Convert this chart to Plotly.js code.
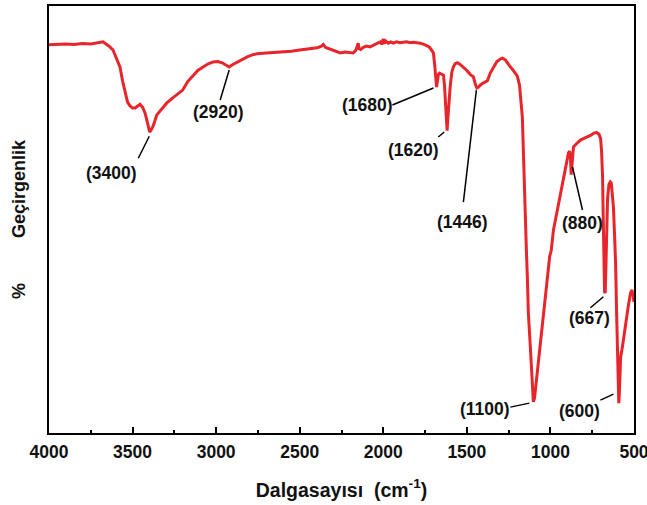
<!DOCTYPE html>
<html>
<head>
<meta charset="utf-8">
<script src="https://cdn.plot.ly/plotly-3.0.1.min.js"></script>
<style>html,body{margin:0;padding:0;background:#fff;}#chart{width:647px;height:505px;}</style>
</head>
<body>
<div id="chart"></div>
<script>
// Spectrum: wavenumber (cm-1) and transmittance (arbitrary %)
const wavenumber = [4000,3950,3900,3850,3800,3750,3700,3677,3655,3640,3617,3595,3575,3560,3545,3530,3515,3500,3485,3470,3455,3440,3425,3410,3398,3388,3375,3355,3325,3295,3265,3235,3200,3170,3137,3110,3078,3050,3018,2990,2964,2940,2922,2900,2874,2840,2814,2780,2755,2700,2650,2599,2550,2500,2450,2395,2370,2359,2345,2317,2290,2257,2230,2200,2180,2165,2155,2150,2145,2135,2120,2100,2080,2060,2040,2018,2008,2000,1993,1985,1970,1955,1940,1920,1900,1880,1860,1840,1820,1800,1778,1750,1725,1710,1700,1692,1686,1681,1676,1670,1664,1650,1640,1634,1628,1622,1618,1614,1608,1600,1590,1581,1570,1557,1540,1521,1500,1480,1461,1450,1440,1430,1419,1400,1377,1360,1341,1320,1300,1287,1270,1255,1239,1220,1198,1185,1175,1168,1162,1156,1150,1144,1138,1132,1120,1110,1102,1095,1085,1072,1057,1042,1027,1012,1004,1000,995,982,960,940,915,892,885,880,876,872,868,862,840,820,800,778,760,742,725,710,700,694,688,684,680,676,672,668,663,658,650,642,636,630,623,615,610,604,598,594,591,588,585,580,570,560,550,535,521,512,505,500];
const transmittance = [90.9,91.0,91.1,91.0,91.2,91.1,91.5,91.6,91.0,90.6,89.7,87.5,85.7,82.5,79.6,77.5,76.6,76.1,76.1,76.6,77.0,76.3,74.9,72.5,70.5,71.0,72.1,74.5,76.0,77.3,78.3,79.2,80.3,82.3,83.8,84.9,85.7,86.4,86.9,87.0,86.7,86.1,85.7,86.3,86.9,87.6,88.1,88.6,88.8,89.0,89.1,89.2,89.4,89.7,89.9,90.2,90.6,91.0,90.3,89.9,89.4,89.0,89.2,89.0,89.0,89.6,91.0,91.3,90.0,89.8,90.3,90.6,90.4,90.9,91.2,91.6,91.0,92.3,91.2,91.8,91.3,91.6,91.3,91.6,91.4,91.5,91.6,91.4,91.5,91.4,91.3,90.9,90.4,89.6,89.0,86.0,82.0,81.0,82.5,84.0,84.3,84.1,83.8,81.5,77.0,72.0,70.8,73.5,77.5,81.0,84.5,85.7,86.5,86.7,86.3,85.7,84.9,84.0,83.4,81.8,80.8,81.0,81.5,82.0,82.5,84.3,85.7,87.0,87.6,87.8,87.4,86.5,85.7,84.8,83.6,81.5,78.0,74.0,66.3,56.0,49.9,43.0,36.5,28.1,20.0,12.4,7.3,8.2,12.0,16.4,22.0,28.1,34.0,39.8,41.5,42.0,42.8,47.5,52.0,56.2,61.0,65.6,66.0,64.5,60.5,63.0,66.0,67.0,67.9,68.6,69.0,69.3,69.7,70.2,70.4,70.0,69.0,66.0,60.0,50.0,38.0,33.0,32.8,38.0,48.0,55.0,58.2,58.8,58.5,56.0,52.9,45.0,39.8,28.0,17.8,10.0,7.0,9.0,12.4,17.8,20.0,23.0,25.8,29.5,32.8,33.5,32.0,30.7];

// Peak labels
const peakLabels = ["(3400)","(2920)","(1680)","(1620)","(1446)","(880)","(667)","(1100)","(600)"];
const peakTipWn = [3400,2922,1700,1635,1443,868,683,1126,623];
const peakTipT = [69.5,85.0,80.8,70.5,80.3,62.3,31.9,7.0,9.1];

// x-axis ticks
const xTickVals = [4000,3500,3000,2500,2000,1500,1000,500];
const xTickText = ["4000","3500","3000","2500","2000","1500","1000","500"];

// Layout offsets (pixels, +y downward): label centre and leader-line far end, relative to tip
const labelOffset = [[-38,37],[-11,42],[-66,17],[-31,18],[-14,132],[10,56],[-14,21],[-44,6],[-34,17]];
const lineOffset = [[-11,22],[-9,30],[-41,17],[-6,5],[-13,112],[10,43],[-13,11],[-19,4],[-13,6]];

const FONT = 'Liberation Sans, Arial, Helvetica, sans-serif';

const annotations = [];
const shapes = [];
peakLabels.forEach((lab, i) => {
  shapes.push({
    type: 'line', xref: 'x', yref: 'y',
    xsizemode: 'pixel', ysizemode: 'pixel',
    xanchor: peakTipWn[i], yanchor: peakTipT[i],
    x0: 0, y0: 0, x1: lineOffset[i][0], y1: -lineOffset[i][1],
    line: {color: '#000', width: 1.5}
  });
  annotations.push({
    x: peakTipWn[i], y: peakTipT[i], xref: 'x', yref: 'y',
    text: lab, showarrow: true, arrowwidth: 0.1, arrowcolor: 'rgba(0,0,0,0)',
    ax: labelOffset[i][0], ay: labelOffset[i][1],
    font: {family: FONT, size: 17.5, color: '#111', weight: 'bold'}
  });
});

const trace = {
  x: wavenumber, y: transmittance, type: 'scatter', mode: 'lines',
  line: {color: '#e8252b', width: 3}, hoverinfo: 'skip'
};

const sp = '\u00a0';
const layout = {
  width: 647, height: 505,
  margin: {l: 49, r: 13, t: 6, b: 72},
  paper_bgcolor: '#fff', plot_bgcolor: '#fff',
  showlegend: false,
  xaxis: {
    range: [4000, 500], autorange: false,
    tickmode: 'array', tickvals: xTickVals, ticktext: xTickText,
    ticks: 'inside', ticklen: 6, tickwidth: 2, tickcolor: '#000',
    ticklabelstandoff: 2, ticklabeloverflow: 'allow',
    minor: {ticks: 'inside', ticklen: 3, tickwidth: 2, tickcolor: '#000', dtick: 250, tick0: 500, showgrid: false},
    showline: true, mirror: true, linecolor: '#000', linewidth: 2,
    showgrid: false, zeroline: false,
    tickfont: {family: FONT, size: 17.5, color: '#111', weight: 'bold'},
    title: {text: 'Dalgasayısı' + sp + sp + '(cm<sup>-1</sup>)', font: {family: FONT, size: 19.5, color: '#111', weight: 'bold'}, standoff: 22}
  },
  yaxis: {
    range: [0, 100], autorange: false,
    showline: true, mirror: true, linecolor: '#000', linewidth: 2,
    ticks: '', showticklabels: false, showgrid: false, zeroline: false,
    title: {text: '%' + sp.repeat(9) + 'Geçirgenlik', font: {family: FONT, size: 18, color: '#111', weight: 'bold'}, standoff: 17}
  },
  shapes: shapes,
  annotations: annotations
};

Plotly.newPlot('chart', [trace], layout, {staticPlot: true, displayModeBar: false});
</script>
</body>
</html>
